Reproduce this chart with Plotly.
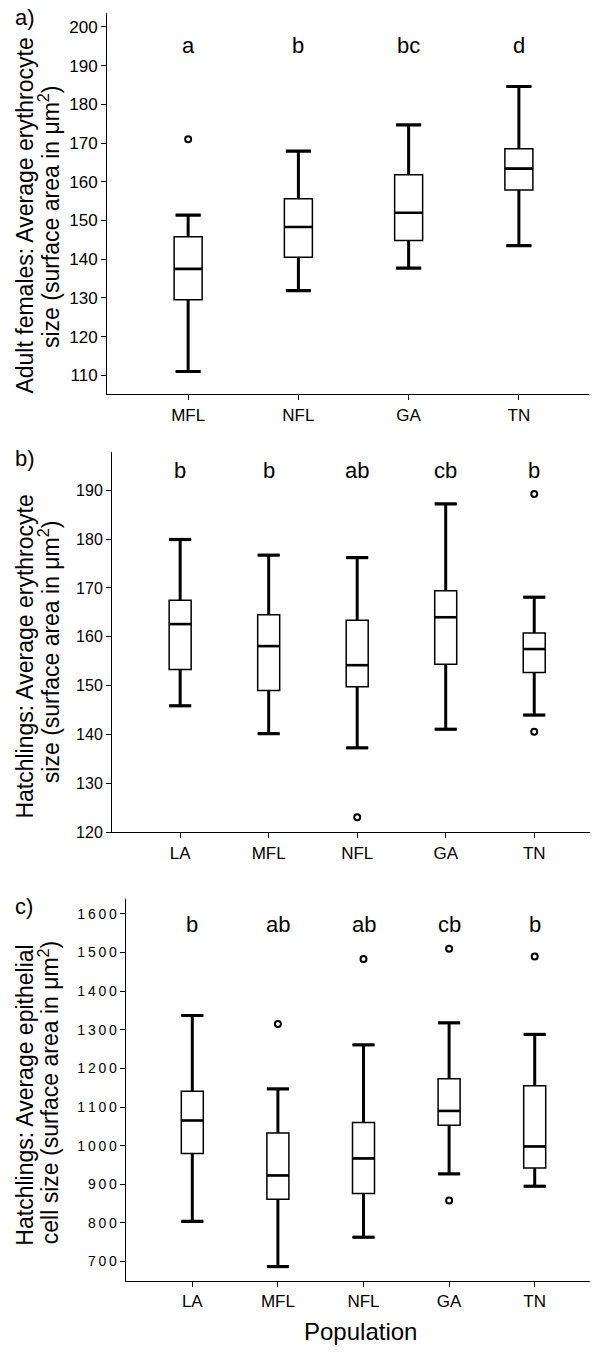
import plotly.graph_objects as go

W, H = 592, 1353
FONT = "Liberation Sans, Arial, sans-serif"

# ---------------- data ----------------
# Panel a: adult females, erythrocyte size
cats_a = ["MFL", "NFL", "GA", "TN"]
lower_a = [111.0, 131.9, 137.7, 143.5]
q1_a = [129.5, 140.5, 144.8, 157.9]
med_a = [137.5, 148.3, 152.0, 163.4]
q3_a = [145.8, 155.6, 161.8, 168.5]
upper_a = [151.4, 167.9, 174.7, 184.6]
out_x_a = ["MFL"]
out_y_a = [171.0]
letters_a = ["a", "b", "bc", "d"]
ticks_a = [110, 120, 130, 140, 150, 160, 170, 180, 190, 200]

# Panel b: hatchlings, erythrocyte size
cats_b = ["LA", "MFL", "NFL", "GA", "TN"]
lower_b = [145.9, 140.2, 137.3, 141.1, 144.0]
q1_b = [153.3, 149.0, 149.8, 154.4, 152.7]
med_b = [162.6, 158.1, 154.2, 164.0, 157.5]
q3_b = [167.5, 164.5, 163.4, 169.4, 160.8]
upper_b = [179.9, 176.7, 176.2, 187.2, 168.1]
out_x_b = ["NFL", "TN", "TN"]
out_y_b = [123.1, 189.2, 140.6]
letters_b = ["b", "b", "ab", "cb", "b"]
ticks_b = [120, 130, 140, 150, 160, 170, 180, 190]

# Panel c: hatchlings, epithelial cell size
cats_c = ["LA", "MFL", "NFL", "GA", "TN"]
lower_c = [804, 687, 763, 927, 895]
q1_c = [980, 861, 876, 1053, 942]
med_c = [1065, 923, 967, 1090, 998]
q3_c = [1141, 1033, 1060, 1173, 1155]
upper_c = [1337, 1147, 1261, 1318, 1288]
out_x_c = ["MFL", "NFL", "GA", "GA", "TN"]
out_y_c = [1315, 1483, 1510, 858, 1490]
letters_c = ["b", "ab", "ab", "cb", "b"]
ticks_c = [700, 800, 900, 1000, 1100, 1200, 1300, 1400, 1500, 1600]

panels = [
    dict(key="", cats=cats_a, lo=lower_a, q1=q1_a, med=med_a, q3=q3_a, up=upper_a,
         ox=out_x_a, oy=out_y_a, letters=letters_a, letter_y=195.3, ticks=ticks_a,
         ticktext=[str(t) for t in ticks_a], tickfont=17,
         px=(107, 589), py=(13, 397), xr=(-0.736, 3.636), yr=(105.1, 203.6),
         box_px=28, cap_px=25,
         title=("Adult females: Average erythrocyte", "size (surface area in μm<sup>2</sup>)"),
         tcy=(217, 218), label="a)", label_y=18),
    dict(key="2", cats=cats_b, lo=lower_b, q1=q1_b, med=med_b, q3=q3_b, up=upper_b,
         ox=out_x_b, oy=out_y_b, letters=letters_b, letter_y=194.0, ticks=ticks_b,
         ticktext=[str(t) for t in ticks_b], tickfont=16,
         px=(112, 590), py=(455, 838), xr=(-0.77, 4.63), yr=(120, 197.8),
         box_px=22, cap_px=22,
         title=("Hatchlings: Average erythrocyte", "size (surface area in μm<sup>2</sup>)"),
         tcy=(661, 656), label="b)", label_y=462),
    dict(key="3", cats=cats_c, lo=lower_c, q1=q1_c, med=med_c, q3=q3_c, up=upper_c,
         ox=out_x_c, oy=out_y_c, letters=letters_c, letter_y=1573, ticks=ticks_c,
         ticktext=["\u2009".join(str(t)) for t in ticks_c], tickfont=14,
         px=(125.7, 590), py=(905, 1289.3), xr=(-0.778, 4.646), yr=(650.4, 1638.6),
         box_px=22, cap_px=22,
         title=("Hatchlings: Average epithelial", "cell size (surface area in μm<sup>2</sup>)"),
         tcy=(1103, 1100), label="c)", label_y=913),
]

fig = go.Figure()
annotations = []

for p in panels:
    xa = "x" + p["key"]
    ya = "y" + p["key"]
    ppu = (p["px"][1] - p["px"][0]) / (p["xr"][1] - p["xr"][0])
    bw = p["box_px"] / ppu

    # thin box (outline, median, whiskers)
    fig.add_trace(go.Box(
        x=p["cats"], q1=p["q1"], median=p["med"], q3=p["q3"],
        lowerfence=p["lo"], upperfence=p["up"],
        width=bw, whiskerwidth=p["cap_px"] / p["box_px"],
        boxpoints=False, fillcolor="white",
        line=dict(color="black", width=1.5),
        xaxis=xa, yaxis=ya, showlegend=False, hoverinfo="skip"))

    # thick whisker stems
    wx, wy = [], []
    for c, lo, q1, q3, up in zip(p["cats"], p["lo"], p["q1"], p["q3"], p["up"]):
        wx += [c, c, None, c, c, None]
        wy += [q3, up, None, q1, lo, None]
    fig.add_trace(go.Scatter(x=wx, y=wy, mode="lines",
                             line=dict(color="black", width=3),
                             xaxis=xa, yaxis=ya, showlegend=False, hoverinfo="skip"))
    # thick caps
    fig.add_trace(go.Scatter(
        x=p["cats"] + p["cats"], y=p["up"] + p["lo"], mode="markers",
        marker=dict(symbol="line-ew", size=p["cap_px"] / 1.4,
                    line=dict(color="black", width=3.2)),
        xaxis=xa, yaxis=ya, showlegend=False, hoverinfo="skip"))
    # thick median
    fig.add_trace(go.Scatter(
        x=p["cats"], y=p["med"], mode="markers",
        marker=dict(symbol="line-ew", size=p["box_px"] / 1.4,
                    line=dict(color="black", width=2.6)),
        xaxis=xa, yaxis=ya, showlegend=False, hoverinfo="skip"))
    # outliers
    fig.add_trace(go.Scatter(
        x=p["ox"], y=p["oy"], mode="markers",
        marker=dict(symbol="circle-open", size=6, color="black",
                    line=dict(color="black", width=2)),
        xaxis=xa, yaxis=ya, showlegend=False, hoverinfo="skip"))

    # significance letters
    for c, t in zip(p["cats"], p["letters"]):
        annotations.append(dict(x=c, y=p["letter_y"], xref=xa, yref=ya, text=t,
                                showarrow=False, xanchor="center", yanchor="middle",
                                font=dict(family=FONT, size=22, color="black")))

    # axes
    xdom = [p["px"][0] / W, p["px"][1] / W]
    ydom = [1 - p["py"][1] / H, 1 - p["py"][0] / H]
    fig.layout["xaxis" + p["key"]] = dict(
        domain=xdom, anchor=ya, type="category", categoryorder="array",
        categoryarray=p["cats"], range=list(p["xr"]),
        showline=True, linecolor="black", linewidth=1, ticks="outside",
        ticklen=5, tickwidth=1, tickcolor="black", showgrid=False, zeroline=False,
        tickfont=dict(family=FONT, size=17, color="black"))
    fig.layout["yaxis" + p["key"]] = dict(
        domain=ydom, anchor=xa, range=list(p["yr"]),
        tickmode="array", tickvals=p["ticks"], ticktext=p["ticktext"],
        showline=True, linecolor="black", linewidth=1, ticks="outside",
        ticklen=5, tickwidth=1, tickcolor="black", showgrid=False, zeroline=False,
        tickfont=dict(family=FONT, size=p["tickfont"], color="black"))

    # y titles (two lines, tight spacing)
    for line_text, cx, cy in zip(p["title"], (25, 48.5), p["tcy"]):
        annotations.append(dict(x=cx / W, y=1 - cy / H, xref="paper", yref="paper",
                                text=line_text, textangle=-90, showarrow=False,
                                xanchor="center", yanchor="middle",
                                font=dict(family=FONT, size=23, color="black")))
    # panel label
    annotations.append(dict(x=13 / W, y=1 - p["label_y"] / H, xref="paper", yref="paper",
                            text=p["label"], showarrow=False, xanchor="left",
                            yanchor="middle",
                            font=dict(family=FONT, size=22, color="black")))

annotations.append(dict(x=360 / W, y=1 - 1340 / H, xref="paper", yref="paper",
                        text="Population", showarrow=False, xanchor="center",
                        yanchor="middle",
                        font=dict(family=FONT, size=24, color="black")))

fig.update_layout(
    width=W, height=H, margin=dict(l=0, r=0, t=0, b=0),
    paper_bgcolor="white", plot_bgcolor="white",
    annotations=annotations, showlegend=False,
)

fig.write_html("out.html")
